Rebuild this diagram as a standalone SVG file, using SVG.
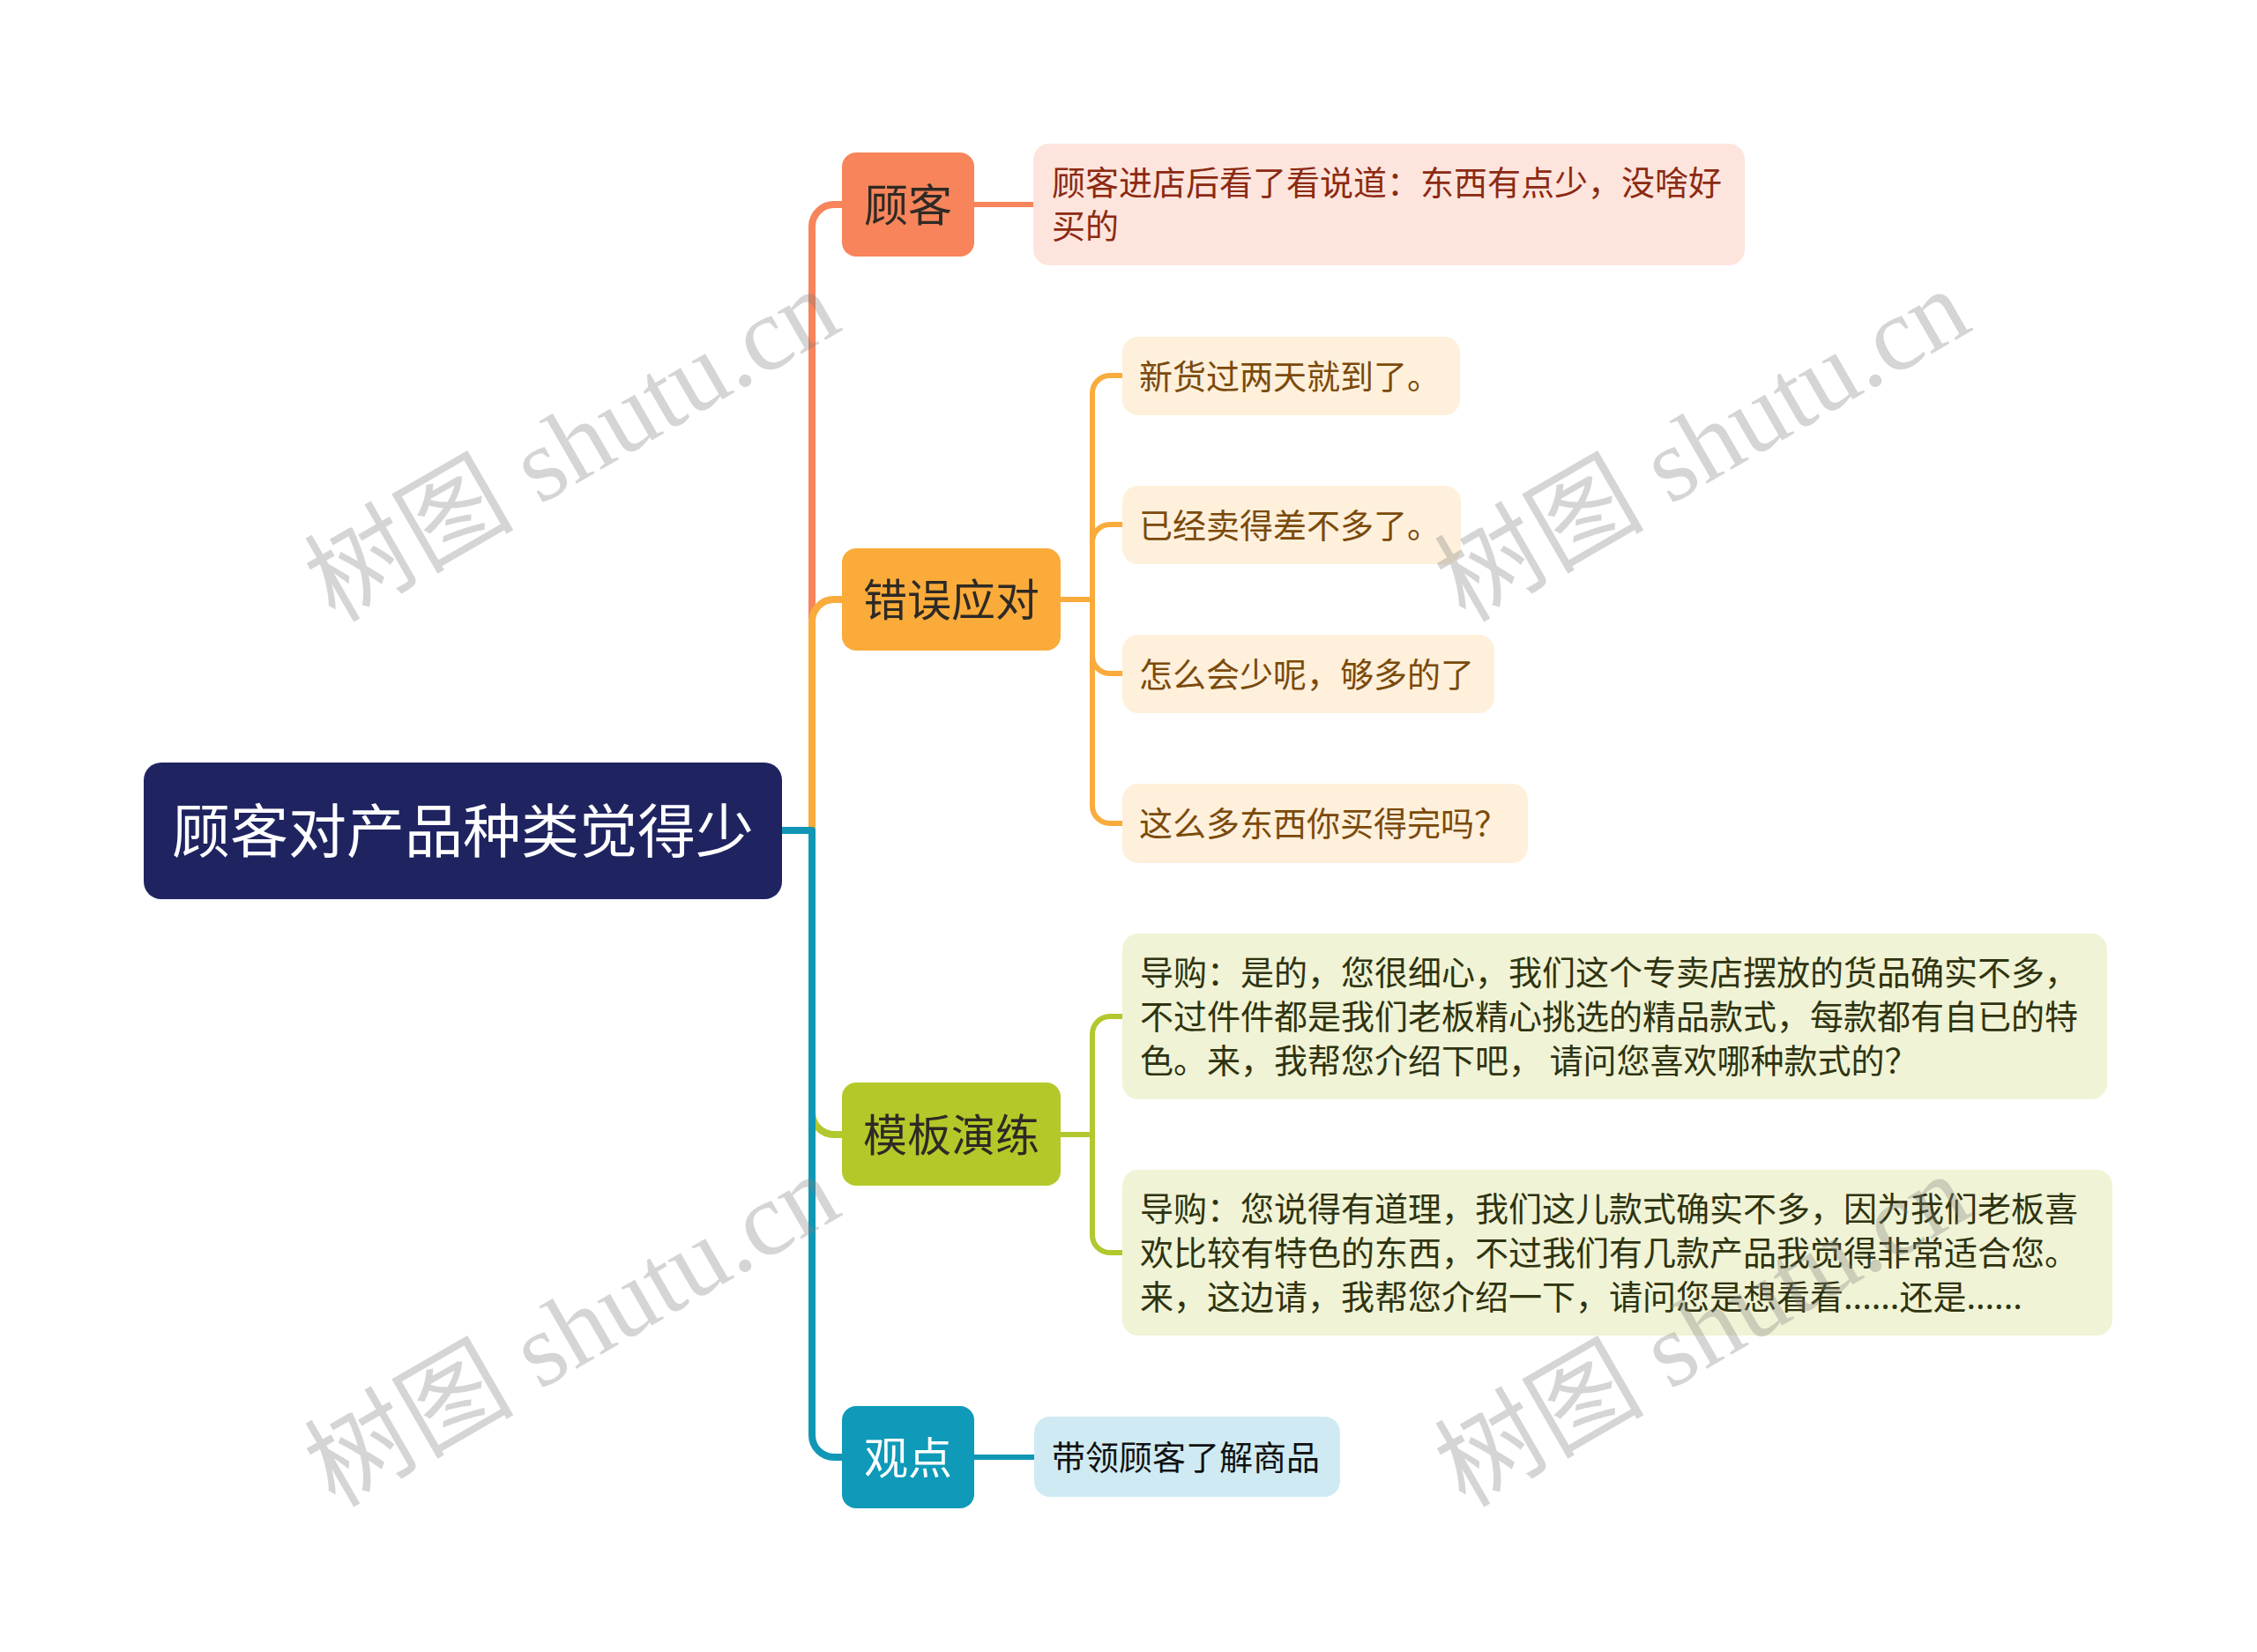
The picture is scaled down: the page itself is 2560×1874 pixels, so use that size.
<svg xmlns="http://www.w3.org/2000/svg" width="2560" height="1874" viewBox="0 0 2560 1874">
<style>
text{font-family:"Noto Sans CJK SC","Liberation Sans",sans-serif}
.root-t{font-size:66px;fill:#ffffff;text-anchor:middle}
.br-t{font-size:50px;text-anchor:middle;fill:#2e2a25}
.lf{font-size:38px}
.c-main{fill:none;stroke-width:8;stroke-linejoin:round}
.c-sub{fill:none;stroke-width:6;stroke-linejoin:round}
.wm{font-family:"Liberation Serif","Noto Sans CJK SC",serif;font-size:119px;fill:#808080;fill-opacity:0.33;text-anchor:middle}
</style>
<rect width="2560" height="1874" fill="#ffffff"/>
<g id="connectors">
<path class="c-main" stroke="#F7845A" d="M887,942 H921 V257 A25,25 0 0 1 946,232 H955"/>
<path class="c-main" stroke="#F9AB3C" d="M887,942 H921 V705 A25,25 0 0 1 946,680 H955"/>
<path class="c-main" stroke="#B3C72E" d="M887,942 H921 V1262 A25,25 0 0 0 946,1287 H955"/>
<path class="c-main" stroke="#1197B5" d="M887,942 H921 V1628 A25,25 0 0 0 946,1653 H955"/>
<path class="c-sub" stroke="#F7845A" d="M1105,232 H1172"/>
<path class="c-sub" stroke="#F9AB3C" d="M1203,680 H1239 V446 A20,20 0 0 1 1259,426 H1273"/>
<path class="c-sub" stroke="#F9AB3C" d="M1203,680 H1239 V615 A20,20 0 0 1 1259,595 H1273"/>
<path class="c-sub" stroke="#F9AB3C" d="M1203,680 H1239 V744 A20,20 0 0 0 1259,764 H1273"/>
<path class="c-sub" stroke="#F9AB3C" d="M1203,680 H1239 V914 A20,20 0 0 0 1259,934 H1273"/>
<path class="c-sub" stroke="#B3C72E" d="M1203,1287 H1239 V1173 A20,20 0 0 1 1259,1153 H1273"/>
<path class="c-sub" stroke="#B3C72E" d="M1203,1287 H1239 V1401 A20,20 0 0 0 1259,1421 H1273"/>
<path class="c-sub" stroke="#1197B5" d="M1105,1653 H1173"/>
</g>
<g id="root">
<rect x="163" y="865" width="724" height="155" rx="20" fill="#1F2461"/>
<text class="root-t" x="525" y="967">顾客对产品种类觉得少</text>
</g>
<g id="n-guke">
<rect x="955" y="173" width="150" height="118" rx="16" fill="#F7845A"/>
<text class="br-t" x="1030" y="251">顾客</text>
</g>
<g id="n-cuowu">
<rect x="955" y="622" width="248" height="116" rx="16" fill="#FBAB3A"/>
<text class="br-t" x="1079" y="699">错误应对</text>
</g>
<g id="n-moban">
<rect x="955" y="1228" width="248" height="117" rx="16" fill="#B5C829"/>
<text class="br-t" x="1079" y="1306">模板演练</text>
</g>
<g id="n-guandian">
<rect x="955" y="1595" width="150" height="116" rx="16" fill="#0E9AB8"/>
<text class="br-t" x="1030" y="1672" style="fill:#ffffff">观点</text>
</g>
<g id="l-guke">
<rect x="1172" y="163" width="807" height="138" rx="18" fill="#FDE5DD"/>
<text class="lf" fill="#8C2A12"><tspan x="1193" y="221">顾客进店后看了看说道：东西有点少，没啥好</tspan><tspan x="1193" y="270">买的</tspan></text>
</g>
<g id="l-cw1">
<rect x="1273" y="382" width="383" height="89" rx="18" fill="#FEF0DB"/>
<text class="lf" fill="#7B4A0B" x="1292" y="441">新货过两天就到了。</text>
</g>
<g id="l-cw2">
<rect x="1273" y="551" width="384" height="89" rx="18" fill="#FEF0DB"/>
<text class="lf" fill="#7B4A0B" x="1292" y="610">已经卖得差不多了。</text>
</g>
<g id="l-cw3">
<rect x="1273" y="720" width="422" height="89" rx="18" fill="#FEF0DB"/>
<text class="lf" fill="#7B4A0B" x="1292" y="779">怎么会少呢，够多的了</text>
</g>
<g id="l-cw4">
<rect x="1273" y="889" width="460" height="90" rx="18" fill="#FEF0DB"/>
<text class="lf" fill="#7B4A0B" x="1292" y="948">这么多东西你买得完吗？</text>
</g>
<g id="l-mb1">
<rect x="1273" y="1059" width="1117" height="188" rx="18" fill="#F0F3D5"/>
<text class="lf" fill="#2F3310"><tspan x="1293" y="1117">导购：是的，您很细心，我们这个专卖店摆放的货品确实不多，</tspan><tspan x="1293" y="1167">不过件件都是我们老板精心挑选的精品款式，每款都有自已的特</tspan><tspan x="1293" y="1217">色。来，我帮您介绍下吧， 请问您喜欢哪种款式的？</tspan></text>
</g>
<g id="l-mb2">
<rect x="1273" y="1327" width="1123" height="188" rx="18" fill="#F0F3D5"/>
<text class="lf" fill="#2F3310"><tspan x="1293" y="1385">导购：您说得有道理，我们这儿款式确实不多，因为我们老板喜</tspan><tspan x="1293" y="1435">欢比较有特色的东西，不过我们有几款产品我觉得非常适合您。</tspan><tspan x="1293" y="1485">来，这边请，我帮您介绍一下，请问您是想看看......还是......</tspan></text>
</g>
<g id="l-gd">
<rect x="1173" y="1607" width="347" height="91" rx="18" fill="#CFEAF2"/>
<text class="lf" fill="#111111" x="1193" y="1667">带领顾客了解商品</text>
</g>
<g id="watermarks">
<text class="wm" x="669" y="540" transform="rotate(-30 669 540)">树图 shutu.cn</text>
<text class="wm" x="1951" y="540" transform="rotate(-30 1951 540)">树图 shutu.cn</text>
<text class="wm" x="669" y="1544" transform="rotate(-30 669 1544)">树图 shutu.cn</text>
<text class="wm" x="1951" y="1544" transform="rotate(-30 1951 1544)">树图 shutu.cn</text>
</g>
</svg>
